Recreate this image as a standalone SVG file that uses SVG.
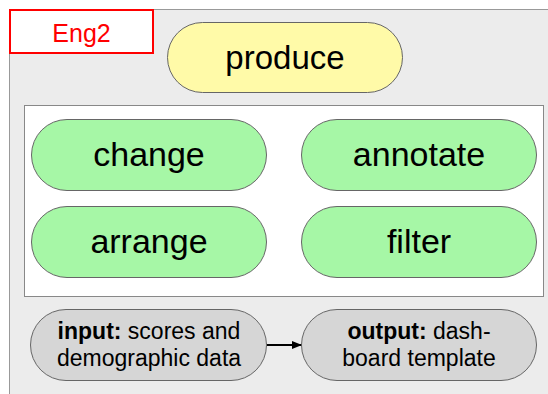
<svg xmlns="http://www.w3.org/2000/svg" width="548" height="394" viewBox="0 0 548 394">
<defs>
<style>
.pill{stroke:#666;stroke-width:1}
.big{font-family:"Liberation Sans",Arial,sans-serif;font-size:34px;fill:#000;text-anchor:middle}
.small{font-family:"Liberation Sans",Arial,sans-serif;font-size:23px;fill:#000;text-anchor:middle}
</style>
<marker id="ah" markerWidth="10" markerHeight="8" refX="9" refY="4" orient="auto" markerUnits="userSpaceOnUse">
<path d="M0,0 L10,4 L0,8 Z" fill="#000"/>
</marker>
</defs>
<rect x="9.5" y="9.5" width="560" height="400" fill="#ececec" stroke="#999" stroke-width="1"/>
<g id="eng2">
<rect x="10" y="10" width="143" height="43" fill="#fff" stroke="#f00" stroke-width="2"/>
<text x="81.5" y="41.5" style="font-family:'Liberation Sans',Arial,sans-serif;font-size:25px;fill:#f00;text-anchor:middle">Eng2</text>
</g>
<g id="produce">
<rect class="pill" x="167.5" y="22.5" width="235" height="70" rx="35" fill="#fffaa8"/>
<text class="big" x="285" y="69" style="font-size:33px">produce</text>
</g>
<g id="group">
<rect x="24.5" y="105.5" width="519" height="191" fill="#fff" stroke="#888" stroke-width="1"/>
</g>
<g id="change">
<rect class="pill" x="31.5" y="119.5" width="235" height="71" rx="35.5" fill="#a6f7a6"/>
<text class="big" x="149" y="166">change</text>
</g>
<g id="annotate">
<rect class="pill" x="301.5" y="119.5" width="235" height="71" rx="35.5" fill="#a6f7a6"/>
<text class="big" x="419" y="166">annotate</text>
</g>
<g id="arrange">
<rect class="pill" x="31.5" y="206.5" width="235" height="71" rx="35.5" fill="#a6f7a6"/>
<text class="big" x="149" y="253">arrange</text>
</g>
<g id="filter">
<rect class="pill" x="301.5" y="206.5" width="235" height="71" rx="35.5" fill="#a6f7a6"/>
<text class="big" x="419" y="253">filter</text>
</g>
<g id="input">
<rect class="pill" x="30.5" y="309.5" width="236" height="71" rx="35.5" fill="#d6d6d6"/>
<text class="small" x="149" y="339"><tspan font-weight="bold">input:</tspan> scores and</text>
<text class="small" x="149" y="366">demographic data</text>
</g>
<g id="output">
<rect class="pill" x="301.5" y="309.5" width="235" height="71" rx="35.5" fill="#d6d6d6"/>
<text class="small" x="419" y="339"><tspan font-weight="bold">output:</tspan> dash-</text>
<text class="small" x="419" y="366">board template</text>
</g>
<g id="connectors">
<line x1="267" y1="345" x2="301" y2="345" stroke="#000" stroke-width="2" marker-end="url(#ah)"/>
</g>
</svg>
